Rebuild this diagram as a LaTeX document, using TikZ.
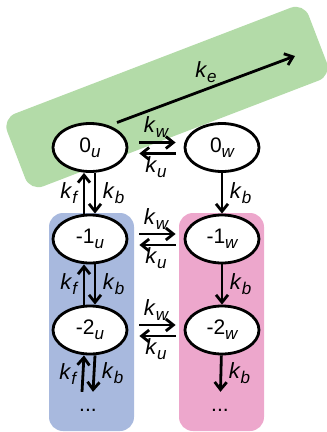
\documentclass[tikz,border=0pt]{standalone}
\usepackage{fontspec}
\setmainfont{Liberation Sans}
\usepackage{xcolor}
\usetikzlibrary{arrows.meta, positioning, shapes.geometric}
\definecolor{bandgreen}{RGB}{179,219,168}
\definecolor{colblue}{RGB}{168,185,222}
\definecolor{colpink}{RGB}{237,167,204}
\newcommand{\sub}[1]{\raisebox{-5pt}{\fontsize{17}{18}\selectfont\itshape #1}}
\newcommand{\krate}[1]{\textit{k}\sub{#1}}
\newcommand{\sname}[2]{#1\sub{#2}}

\begin{document}
\begin{tikzpicture}[x=1pt, y=-1pt,
    state/.style ={ellipse, draw=black, line width=2.8pt, fill=white, minimum width=74pt, minimum height=48pt, inner sep=0pt, font=\fontsize{21}{22}\selectfont},
    rate/.style  ={font=\fontsize{22}{22}\selectfont, inner sep=1.5pt},
    more/.style  ={minimum height=36pt, inner sep=0pt, font=\fontsize{21}{22}\selectfont},
    arr/.style   ={-{Straight Barb[length=7.5pt, width=12pt]}, line width=2.8pt},
    hup/.style   ={yshift=5pt},
    hdown/.style ={yshift=-6pt}
]
\def\ux{90}\def\wx{222}
\useasboundingbox (0,0) rectangle (327,432);
\clip (0,0) rectangle (327,432);
% --- coloured backgrounds ---
\node[rectangle, fill=bandgreen, rounded corners=14pt, minimum width=323pt, minimum height=78pt, rotate=21] (band) at (167,97) {};
\fill[colblue, rounded corners=14pt] (49,213) rectangle (134,431);
\fill[colpink, rounded corners=14pt] (179,213) rectangle (264,431);

% --- states ---
\node[state] (u0) at (\ux,147.5) {\sname{0}{u}};
\node[state] (w0) at (\wx,147.5) {\sname{0}{w}};
\node[state] (u1) at (\ux,239)   {\sname{-1}{u}};
\node[state] (w1) at (\wx,239)   {\sname{-1}{w}};
\node[state] (u2) at (\ux,330)   {\sname{-2}{u}};
\node[state] (w2) at (\wx,330)   {\sname{-2}{w}};
\node[more]  (ud) at (88,410)    {...};
\node[more]  (wd) at (220,410)   {...};

% --- escape ---
\coordinate (out) at (295,56);
\draw[arr] ([shift={(27pt,25pt)}]u0.center) -- node[rate, above=4pt]{\krate{e}} (out);

% --- u <-> w ---
\foreach \r in {0,1,2}{
  \draw[arr, shorten <=11pt, shorten >=8pt] ([hup]u\r.east) -- node[rate, above=2pt]{\krate{w}} ([hup]w\r.west);
  \draw[arr, shorten <=8pt, shorten >=11pt] ([hdown]w\r.west) -- node[rate, below=0pt]{\krate{u}} ([hdown]u\r.east);
}

% --- steps down the columns ---
\draw[arr] ([xshift=-6pt]u1.north) -- node[rate, left=4pt]{\krate{f}} ([xshift=-6pt]u0.south);
\draw[arr] ([xshift=5pt]u0.south) -- node[rate, right=5pt]{\krate{b}} ([xshift=5pt]u1.north);
\draw[arr] ([xshift=-6pt]u2.north) -- node[rate, left=4pt]{\krate{f}} ([xshift=-6pt]u1.south);
\draw[arr] ([xshift=5pt]u1.south) -- node[rate, right=5pt]{\krate{b}} ([xshift=5pt]u2.north);
\draw[arr] ([xshift=-6pt]ud.north) -- node[rate, left=4pt]{\krate{f}} ([xshift=-6pt]u2.south);
\draw[arr] ([xshift=5pt]u2.south) -- node[rate, right=5pt]{\krate{b}} ([xshift=5pt]ud.north);
\draw[arr] (w0) -- node[rate, right=5pt]{\krate{b}} (w1);
\draw[arr] (w1) -- node[rate, right=5pt]{\krate{b}} (w2);
\draw[arr] (w2) -- node[rate, right=5pt]{\krate{b}} (wd);
\end{tikzpicture}
\end{document}
